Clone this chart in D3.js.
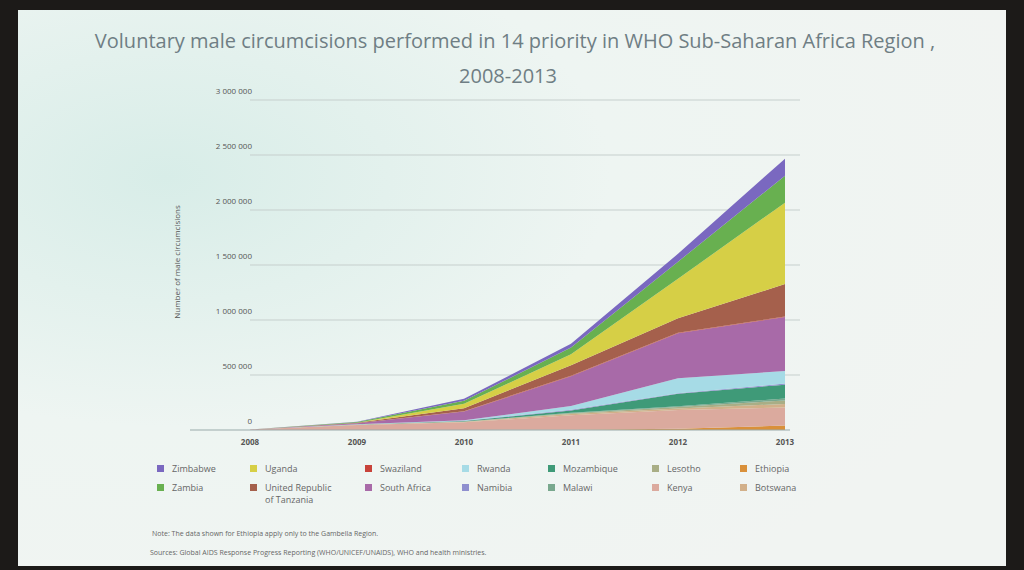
<!DOCTYPE html>
<html><head><meta charset="utf-8">
<script src="https://cdn.jsdelivr.net/npm/d3@7"></script>
<style>body{margin:0;background:#1c1a18}svg{display:block}</style>
</head><body>
<script>
const years = [2008, 2009, 2010, 2011, 2012, 2013];
// stacked bottom to top
const countries = ["Ethiopia","Kenya","Botswana","Lesotho","Malawi","Mozambique","Namibia","Rwanda","South Africa","Swaziland","United Republic of Tanzania","Uganda","Zambia","Zimbabwe"];
const colors = {"Ethiopia":"#d9903a","Kenya":"#dbaa9e","Botswana":"#d2b08a","Lesotho":"#a9ae86","Malawi":"#79a88e","Mozambique":"#3f9a78","Namibia":"#8f8fcf","Rwanda":"#a6dbe6","South Africa":"#a86aa8","Swaziland":"#c8423a","United Republic of Tanzania":"#a5604c","Uganda":"#d6cf46","Zambia":"#68b050","Zimbabwe":"#7a68c0"};
// thousands
const values = {
  "Ethiopia":   [0, 1, 1, 3, 12, 40],
  "Kenya":      [5, 45, 70, 130, 170, 165],
  "Botswana":   [0, 1, 4, 12, 14, 32],
  "Lesotho":    [0, 1, 2, 8, 14, 32],
  "Malawi":     [0, 1, 1, 3, 5, 18],
  "Mozambique": [0, 1, 4, 22, 115, 125],
  "Namibia":    [0, 1, 2, 5, 5, 10],
  "Rwanda":     [0, 1, 4, 35, 135, 115],
  "South Africa":[0, 9, 80, 270, 410, 490],
  "Swaziland":  [0, 1, 3, 5, 5, 5],
  "United Republic of Tanzania":[0, 3, 27, 95, 130, 295],
  "Uganda":     [0, 2, 40, 100, 360, 740],
  "Zambia":     [0, 5, 27, 62, 155, 245],
  "Zimbabwe":   [0, 3, 18, 33, 72, 155]
};
const yTicks = [0, 500000, 1000000, 1500000, 2000000, 2500000, 3000000];
const legendCols = [["Zimbabwe","Zambia"],["Uganda","United Republic of Tanzania"],["Swaziland","South Africa"],["Rwanda","Namibia"],["Mozambique","Malawi"],["Lesotho","Kenya"],["Ethiopia","Botswana"]];

const W = 1024, H = 570;
const svg = d3.select("body").append("svg").attr("width", W).attr("height", H);
const defs = svg.append("defs");
const g1 = defs.append("radialGradient").attr("id","bg").attr("cx","0.15").attr("cy","0.3").attr("r","0.9");
g1.append("stop").attr("offset","0").attr("stop-color","#d8ede8");
g1.append("stop").attr("offset","0.5").attr("stop-color","#eef5f2");
g1.append("stop").attr("offset","1").attr("stop-color","#f1f4f2");
svg.append("rect").attr("x",18).attr("y",10).attr("width",988).attr("height",556).attr("fill","url(#bg)");

svg.append("text").attr("x",515).attr("y",48).attr("text-anchor","middle").attr("font-family","Open Sans").attr("font-size",20).attr("fill","#6f7e84")
  .text("Voluntary male circumcisions performed in 14 priority in WHO Sub-Saharan Africa Region ,");
svg.append("text").attr("x",508).attr("y",83).attr("text-anchor","middle").attr("font-family","Open Sans").attr("font-size",20).attr("fill","#6f7e84").text("2008-2013");

const x = d3.scaleLinear().domain([2008, 2013]).range([250, 785]);
const y = d3.scaleLinear().domain([0, 3000000]).range([430, 100]);

const rows = years.map((yr, i) => { const r = {year: yr}; countries.forEach(c => r[c] = values[c][i] * 1000); return r; });
const series = d3.stack().keys(countries)(rows);

const gAxis = svg.append("g").attr("font-family","Open Sans").attr("font-size",8).attr("fill","#555");
yTicks.forEach(t => {
  if (t > 0) svg.append("line").attr("x1",250).attr("x2",800).attr("y1",y(t)).attr("y2",y(t)).attr("stroke","#c6cfcd").attr("stroke-width",1);
  gAxis.append("text").attr("x",252).attr("y",y(t)-6).attr("text-anchor","end").text(d3.format(",")(t).replace(/,/g," "));
});

const area = d3.area().x(d => x(d.data.year)).y0(d => y(d[0])).y1(d => y(d[1]));
svg.append("g").selectAll("path").data(series).join("path").attr("d", area).attr("fill", d => colors[d.key]);
svg.append("line").attr("x1",190).attr("x2",790).attr("y1",y(0)).attr("y2",y(0)).attr("stroke","#9aa").attr("stroke-width",1);

years.forEach(yr => gAxis.append("text").attr("x",x(yr)).attr("y",445).attr("text-anchor","middle").attr("font-weight","bold").text(yr));
gAxis.append("text").attr("transform","translate(180,262) rotate(-90)").attr("text-anchor","middle").text("Number of male circumcisions");

const lg = svg.append("g").attr("font-family","Open Sans").attr("font-size",9).attr("fill","#666");
const colX = [157, 250, 365, 462, 548, 652, 740];
legendCols.forEach((col, i) => col.forEach((c, j) => {
  const ly = 472 + j * 19;
  lg.append("rect").attr("x",colX[i]).attr("y",ly-7).attr("width",7).attr("height",7).attr("fill",colors[c]);
  if (c === "United Republic of Tanzania") {
    lg.append("text").attr("x",colX[i]+15).attr("y",ly).text("United Republic");
    lg.append("text").attr("x",colX[i]+15).attr("y",ly+12).text("of Tanzania");
  } else lg.append("text").attr("x",colX[i]+15).attr("y",ly).text(c);
}));
lg.append("text").attr("x",152).attr("y",536).attr("font-size",7).text("Note: The data shown for Ethiopia apply only to the Gambella Region.");
lg.append("text").attr("x",150).attr("y",555).attr("font-size",7).text("Sources: Global AIDS Response Progress Reporting (WHO/UNICEF/UNAIDS), WHO and health ministries.");
</script>
</body></html>
